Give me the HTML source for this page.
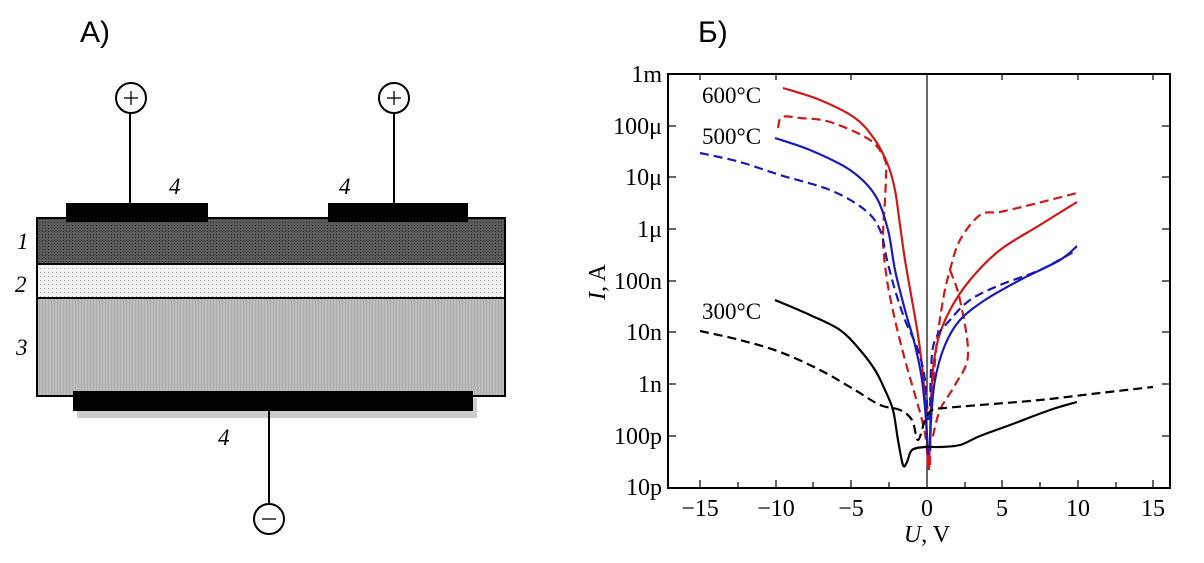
<!DOCTYPE html>
<html><head><meta charset="utf-8"><style>
html,body{margin:0;padding:0;background:#fff;width:1204px;height:563px;overflow:hidden}
svg{display:block}
text{font-family:"Liberation Serif",serif}
</style></head><body>
<svg id="s" width="1204" height="563" viewBox="0 0 1204 563" xmlns="http://www.w3.org/2000/svg">
<defs>
<pattern id="p1" width="3" height="3" patternUnits="userSpaceOnUse"><rect width="3" height="3" fill="#5a5a5a"/><rect width="1" height="1" fill="#333"/></pattern>
<pattern id="p2" width="4" height="4" patternUnits="userSpaceOnUse"><rect width="4" height="4" fill="#f4f4f4"/><rect width="1" height="1" fill="#aaa"/></pattern>
<pattern id="p3" width="3" height="3" patternUnits="userSpaceOnUse"><rect width="3" height="3" fill="#bdbdbd"/><rect width="1" height="3" fill="#adadad"/></pattern>
</defs>
<text x="80" y="42" style="font-family:'Liberation Sans',sans-serif" font-size="30">А)</text>
<text x="698" y="42" style="font-family:'Liberation Sans',sans-serif" font-size="30">Б)</text>
<!-- diagram A -->
<rect x="77" y="398" width="400" height="20" fill="#ccc"/>
<rect x="37" y="218" width="468" height="46" fill="url(#p1)" stroke="#000" stroke-width="2"/>
<rect x="37" y="264" width="468" height="34" fill="url(#p2)" stroke="#000" stroke-width="2"/>
<rect x="37" y="298" width="468" height="98" fill="url(#p3)" stroke="#000" stroke-width="2"/>
<rect x="66" y="203" width="142" height="19" fill="#000"/>
<rect x="328" y="203" width="140" height="19" fill="#000"/>
<rect x="73" y="391" width="400" height="20" fill="#000"/>
<g stroke="#000" stroke-width="2" fill="#fff">
<line x1="130" y1="111" x2="130" y2="203"/><line x1="394" y1="111" x2="394" y2="203"/><line x1="269" y1="411" x2="269" y2="505"/>
<circle cx="131" cy="98" r="15"/><circle cx="394" cy="98" r="15"/><circle cx="269" cy="519" r="15"/>
</g>
<g stroke="#000" stroke-width="1.3"><line x1="124" y1="98" x2="138" y2="98"/><line x1="131" y1="91" x2="131" y2="105"/><line x1="387" y1="98" x2="401" y2="98"/><line x1="394" y1="91" x2="394" y2="105"/><line x1="262" y1="519" x2="276" y2="519"/></g>
<g font-style="italic" font-size="23">
<text x="169" y="194">4</text><text x="339" y="194">4</text><text x="218" y="445">4</text>
<text x="17" y="249">1</text><text x="15" y="292">2</text><text x="16" y="355">3</text>
</g>
<!-- chart B -->
<rect x="668" y="74" width="502" height="414" fill="none" stroke="#000" stroke-width="2"/>
<line x1="927" y1="74" x2="927" y2="488" stroke="#000" stroke-width="1.2"/>
<g stroke="#000" stroke-width="1.2">
<line x1="700" y1="488" x2="700" y2="480"/><line x1="738" y1="488" x2="738" y2="482"/><line x1="776" y1="488" x2="776" y2="480"/><line x1="813" y1="488" x2="813" y2="482"/><line x1="851" y1="488" x2="851" y2="480"/><line x1="889" y1="488" x2="889" y2="482"/><line x1="965" y1="488" x2="965" y2="482"/><line x1="1002" y1="488" x2="1002" y2="480"/><line x1="1040" y1="488" x2="1040" y2="482"/><line x1="1078" y1="488" x2="1078" y2="480"/><line x1="1116" y1="488" x2="1116" y2="482"/><line x1="1153" y1="488" x2="1153" y2="480"/>
<line x1="700" y1="74" x2="700" y2="80"/><line x1="776" y1="74" x2="776" y2="80"/><line x1="851" y1="74" x2="851" y2="80"/><line x1="1002" y1="74" x2="1002" y2="80"/><line x1="1078" y1="74" x2="1078" y2="80"/><line x1="1153" y1="74" x2="1153" y2="80"/>
<line x1="668" y1="126" x2="676" y2="126"/><line x1="668" y1="177" x2="676" y2="177"/><line x1="668" y1="229" x2="676" y2="229"/><line x1="668" y1="281" x2="676" y2="281"/><line x1="668" y1="332" x2="676" y2="332"/><line x1="668" y1="384" x2="676" y2="384"/><line x1="668" y1="436" x2="676" y2="436"/>
<line x1="1170" y1="126" x2="1162" y2="126"/><line x1="1170" y1="177" x2="1162" y2="177"/><line x1="1170" y1="229" x2="1162" y2="229"/><line x1="1170" y1="281" x2="1162" y2="281"/><line x1="1170" y1="332" x2="1162" y2="332"/><line x1="1170" y1="384" x2="1162" y2="384"/><line x1="1170" y1="436" x2="1162" y2="436"/>
</g>
<g font-size="24" text-anchor="end">
<text x="662" y="82">1m</text><text x="662" y="134">100μ</text><text x="662" y="185">10μ</text><text x="662" y="237">1μ</text><text x="662" y="289">100n</text><text x="662" y="340">10n</text><text x="662" y="392">1n</text><text x="662" y="444">100p</text><text x="662" y="495">10p</text>
</g>
<g font-size="24" text-anchor="middle">
<text x="700" y="516">−15</text><text x="776" y="516">−10</text><text x="851" y="516">−5</text><text x="927" y="516">0</text><text x="1002" y="516">5</text><text x="1078" y="516">10</text><text x="1153" y="516">15</text>
<text x="927" y="542"><tspan font-style="italic">U</tspan>, V</text>
</g>
<text transform="translate(605,282) rotate(-90)" font-size="24" text-anchor="middle"><tspan font-style="italic">I</tspan>, A</text>
<g font-size="23"><text x="702" y="103">600°C</text><text x="702" y="144">500°C</text><text x="702" y="319">300°C</text></g>
<g id="curves" fill="none" stroke-width="2.2" stroke-linejoin="round">
<polyline stroke="#d01818" points="783,88 820,100 855,118 875,140 888,165 895,190 900,225 905,260 912,300 918,335 922,365 925,400 927,440 928,470"/>
<polyline stroke="#d01818" points="929,470 930,440 932,380 938,340 950,310 970,280 1000,250 1040,225 1077,202"/>
<polyline stroke="#d01818" stroke-dasharray="9,5" points="778,128 782,117 800,118 830,122 870,140 885,160 886,175 885,200 883,240 887,280 895,320 905,360 915,395 922,420 926,440 928,465"/>
<polyline stroke="#d01818" stroke-dasharray="9,5" points="930,465 931,420 936,350 943,300 950,270 960,240 980,215 1000,212 1030,205 1077,193"/>
<polyline stroke="#d01818" stroke-dasharray="9,5" points="950,270 960,300 968,355 955,385 940,410 932,440"/>
<polyline stroke="#1a1ab8" points="775,138 810,150 850,170 875,195 888,230 895,270 905,310 915,345 922,380 926,420 928,455"/>
<polyline stroke="#1a1ab8" points="930,450 931,420 935,380 945,345 960,320 985,300 1020,280 1060,260 1077,246"/>
<polyline stroke="#1a1ab8" stroke-dasharray="9,5" points="700,153 740,162 780,175 830,190 865,210 880,230 887,260 895,290 905,320 918,350 925,380 928,420"/>
<polyline stroke="#1a1ab8" stroke-dasharray="9,5" points="930,420 931,370 935,340 950,320 970,300 1000,285 1040,270 1077,250"/>
<polyline stroke="#000" points="775,300 810,315 840,330 860,350 875,370 885,390 893,410 898,440 903,465 907,462 912,450 925,447 940,447 960,445 980,436 1010,425 1050,410 1077,402"/>
<polyline stroke="#000" stroke-dasharray="9,5" points="700,331 740,340 780,352 820,370 855,390 880,405 900,410 912,420 918,440 925,420 932,410 945,408 980,405 1040,400 1100,393 1153,387"/>
</g>
</svg>
<script>
(function(){
var ns="http://www.w3.org/2000/svg";
var pls=document.querySelectorAll('#curves polyline');
pls.forEach(function(pl){
 var p=pl.getAttribute('points').trim().split(/\s+/).map(function(s){return s.split(',').map(Number);});
 var d='M'+p[0][0]+','+p[0][1];
 for(var i=0;i<p.length-1;i++){
  var p0=p[i-1]||p[i],p1=p[i],p2=p[i+1],p3=p[i+2]||p2;
  var c1x=p1[0]+(p2[0]-p0[0])/6,c1y=p1[1]+(p2[1]-p0[1])/6;
  var c2x=p2[0]-(p3[0]-p1[0])/6,c2y=p2[1]-(p3[1]-p1[1])/6;
  d+=' C'+c1x.toFixed(1)+','+c1y.toFixed(1)+' '+c2x.toFixed(1)+','+c2y.toFixed(1)+' '+p2[0]+','+p2[1];
 }
 var path=document.createElementNS(ns,'path');
 path.setAttribute('d',d);
 ['stroke','stroke-dasharray'].forEach(function(a){if(pl.getAttribute(a))path.setAttribute(a,pl.getAttribute(a));});
 pl.parentNode.replaceChild(path,pl);
});
})();
</script>
</body></html>
